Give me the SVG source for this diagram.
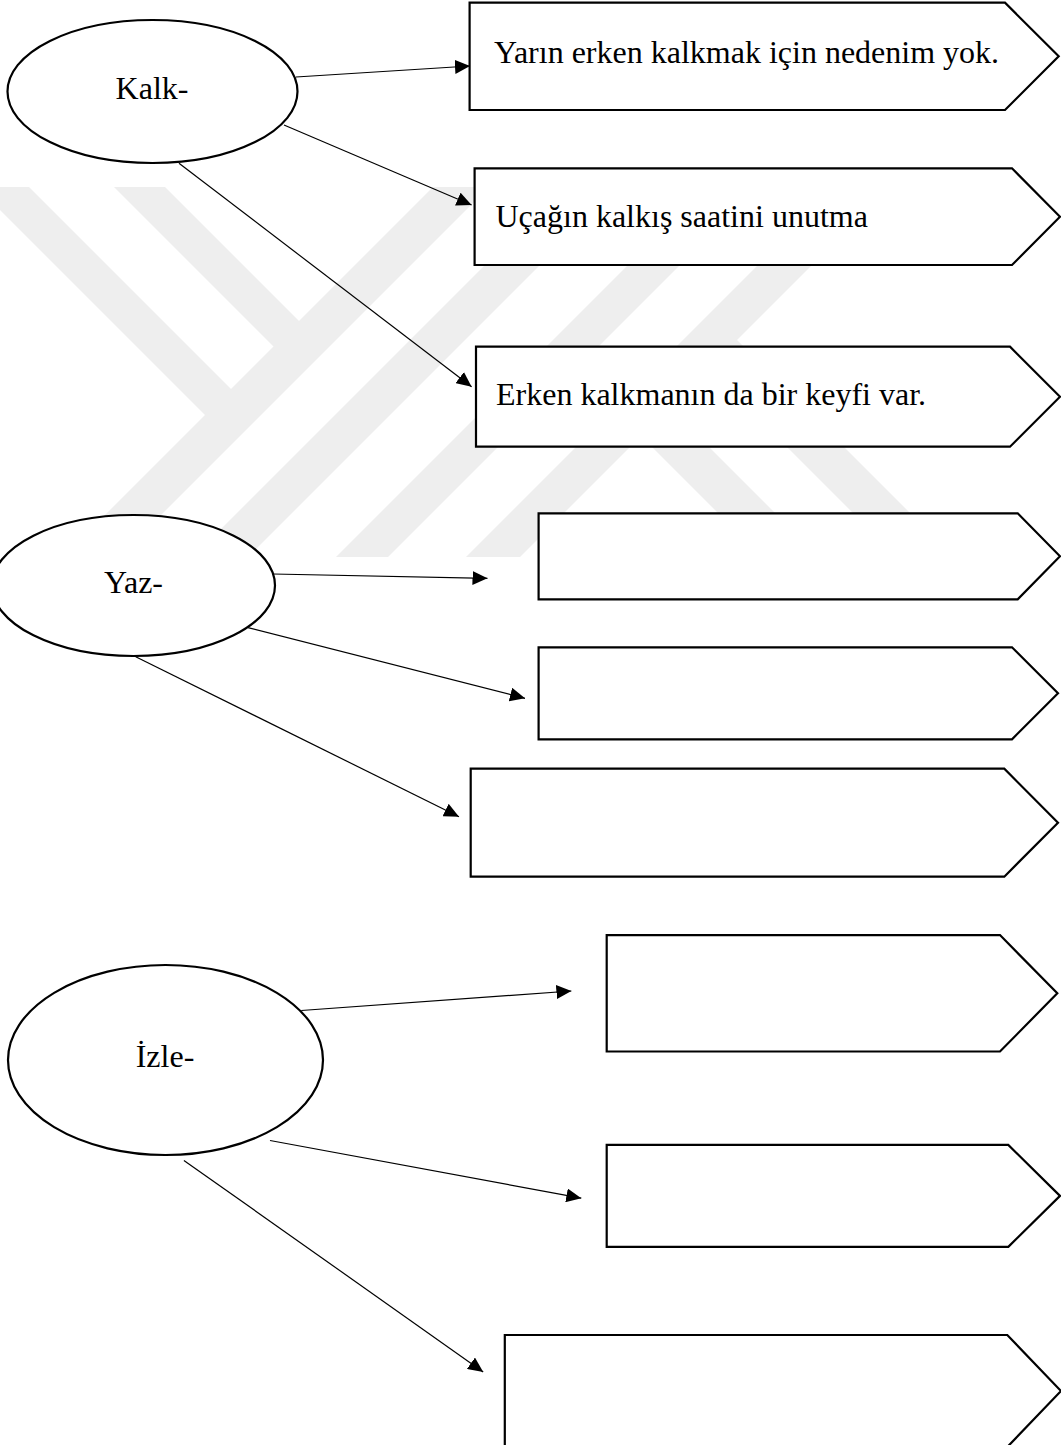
<svg xmlns="http://www.w3.org/2000/svg" width="1061" height="1445" viewBox="0 0 1061 1445">
  <style>
    .node { fill: #ffffff; stroke: #000000; stroke-width: 2.2; stroke-linejoin: miter; }
    .label { font-family: "Liberation Serif", "Times New Roman", serif; font-size: 32px; fill: #000000; }
    .mid { text-anchor: middle; }
    .edge { fill: none; stroke: #000000; stroke-width: 1.2; marker-end: url(#head); }
    .mark { fill: #eeeeee; }
  </style>
  <defs>
    <marker id="head" markerUnits="userSpaceOnUse" markerWidth="15" markerHeight="14" viewBox="0 0 15 14" refX="15" refY="7" orient="auto">
      <path d="M0,0 L15,7 L0,14 z" fill="#000000"/>
    </marker>
  </defs>

  <rect x="0" y="0" width="1061" height="1445" fill="#ffffff"/>

  <!-- faint background emblem: diagonal bands -->
  <g id="emblem">
    <polygon class="mark" points="433,187 489,187 119,557 63,557"/>
    <polygon class="mark" points="563,187 618,187 248,557 193,557"/>
    <polygon class="mark" points="706,187 758,187 388,557 336,557"/>
    <polygon class="mark" points="836,187 890,187 520,557 466,557"/>
    <polygon class="mark" points="-23,187 29,187 241,399 215,425"/>
    <polygon class="mark" points="114,187 165,187 309,331 283.5,356.5"/>
    <polygon class="mark" points="661,399 819,557 762,557 632.5,427.5"/>
    <polygon class="mark" points="728.5,331.5 954,557 897,557 700,360"/>
  </g>

  <!-- connectors -->
  <g id="connectors">
    <line class="edge" x1="296" y1="77" x2="470" y2="66"/>
    <line class="edge" x1="284" y1="125" x2="471.6" y2="205"/>
    <line class="edge" x1="179" y1="163.3" x2="471.6" y2="386.7"/>
    <line class="edge" x1="273" y1="574" x2="487.5" y2="578.3"/>
    <line class="edge" x1="248" y1="627.7" x2="525" y2="698.3"/>
    <line class="edge" x1="135.7" y1="656.7" x2="459" y2="816.7"/>
    <line class="edge" x1="301.3" y1="1010.5" x2="571.4" y2="991"/>
    <line class="edge" x1="270" y1="1140.5" x2="581.3" y2="1198.2"/>
    <line class="edge" x1="183.9" y1="1160.4" x2="483.2" y2="1371.9"/>
  </g>

  <!-- verb ellipses -->
  <g id="kalk">
    <ellipse class="node" cx="152.5" cy="91.5" rx="145" ry="71.5"/>
    <text class="label mid" x="152" y="99">Kalk-</text>
  </g>
  <g id="yaz">
    <ellipse class="node" cx="133.5" cy="585.5" rx="141.5" ry="70.5"/>
    <text class="label mid" x="133.5" y="593">Yaz-</text>
  </g>
  <g id="izle">
    <ellipse class="node" cx="165.5" cy="1060" rx="157.5" ry="95"/>
    <text class="label mid" x="165" y="1067">İzle-</text>
  </g>

  <!-- sentence boxes -->
  <g id="kalk-1">
    <polygon class="node" points="469.6,2.7 1005,2.7 1058.7,56.3 1005,110 469.6,110"/>
    <text class="label" x="494" y="63">Yarın erken kalkmak için nedenim yok.</text>
  </g>
  <g id="kalk-2">
    <polygon class="node" points="474.6,168.3 1012,168.3 1060,216.7 1012,265 474.6,265"/>
    <text class="label" x="495.5" y="226.7">Uçağın kalkış saatini unutma</text>
  </g>
  <g id="kalk-3">
    <polygon class="node" points="476,346.7 1010,346.7 1060,396.7 1010,446.7 476,446.7"/>
    <text class="label" x="496" y="405">Erken kalkmanın da bir keyfi var.</text>
  </g>
  <g id="yaz-1">
    <polygon class="node" points="538.6,513.3 1017.7,513.3 1060,556.3 1017.7,599.3 538.6,599.3"/>
  </g>
  <g id="yaz-2">
    <polygon class="node" points="538.6,647.3 1012,647.3 1058,693.3 1012,739.3 538.6,739.3"/>
  </g>
  <g id="yaz-3">
    <polygon class="node" points="470.7,768.7 1004.3,768.7 1058,822.7 1004.3,876.7 470.7,876.7"/>
  </g>
  <g id="izle-1">
    <polygon class="node" points="606.7,935.1 1000,935.1 1057.3,993.3 1000,1051.5 606.7,1051.5"/>
  </g>
  <g id="izle-2">
    <polygon class="node" points="606.7,1144.9 1008.3,1144.9 1060,1195.9 1008.3,1246.8 606.7,1246.8"/>
  </g>
  <g id="izle-3">
    <polygon class="node" points="504.8,1335 1007.3,1335 1061,1391 1007.3,1447 504.8,1447"/>
  </g>
</svg>
